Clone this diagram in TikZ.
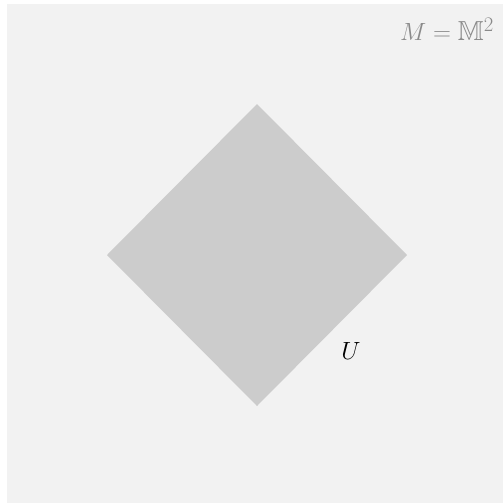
\documentclass[tikz,border=0pt]{standalone}
\usepackage{amssymb}
\definecolor{bgc}{HTML}{F2F2F2}
\definecolor{setc}{HTML}{CCCCCC}
\definecolor{labc}{HTML}{8A8A8A}
\tikzset{lab/.style={inner sep=0pt, font=\fontsize{27.5}{32}\selectfont}}
\begin{document}
\begin{tikzpicture}[x=1pt,y=-1pt]
\useasboundingbox (0,0) rectangle (503,504);
\fill[bgc] (7,4) rectangle (503,503);
\fill[setc] (257,104) -- (407,255) -- (257,406) -- (107,255) -- cycle;
\node[lab, text=labc] (m) at (447,29) {$M=\mathbb{M}^2$};
\node[lab] (u) at (351,351) {$U$};
\end{tikzpicture}
\end{document}
